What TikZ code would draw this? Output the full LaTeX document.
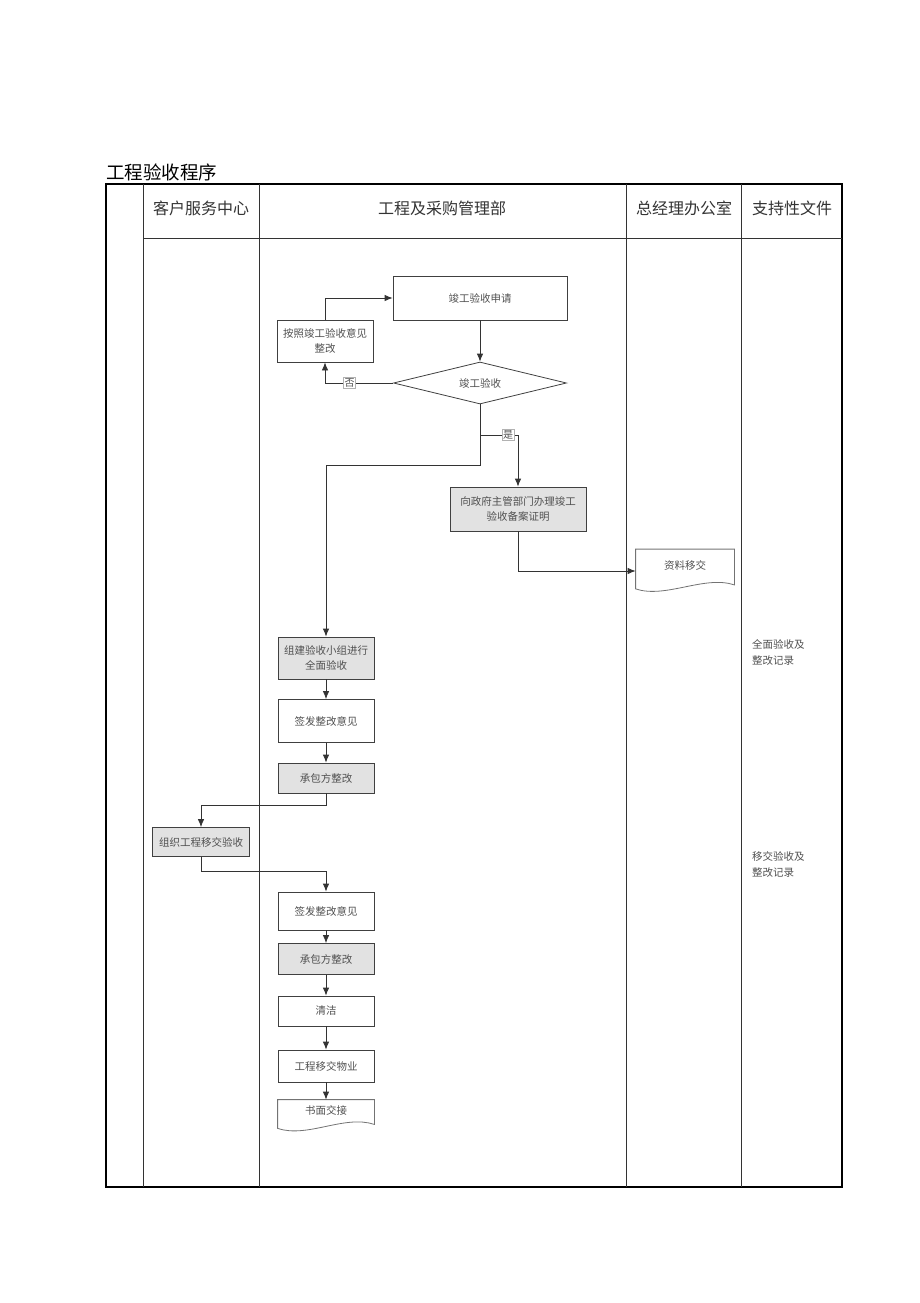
\documentclass[tikz,border=0pt]{standalone}
\usepackage{fontspec}
\newfontfamily\cjk{Noto Sans CJK SC}
\usetikzlibrary{shapes.geometric,arrows.meta}
\definecolor{boxgray}{RGB}{226,226,226}
\definecolor{txtgray}{RGB}{80,80,80}

\begin{document}
\begin{tikzpicture}[x=1pt,y=-1pt,>={Latex[length=8pt,width=6.5pt]},
    box/.style={draw=black!75,line width=0.8pt,text=txtgray,font=\cjk\fontsize{10.5}{15}\selectfont,
      minimum width=96pt,inner sep=0pt,align=center},
    shaded/.style={box,fill=boxgray},
    doc/.style={box,draw=none,text height=8pt,text depth=12pt},
    lab/.style={draw=black!30,fill=white,inner sep=1pt,font=\cjk\fontsize{10}{10}\selectfont,text=txtgray},
    head/.style={font=\cjk\fontsize{16}{16}\selectfont,text=black!80},
    note/.style={font=\cjk\fontsize{10.5}{16}\selectfont,text=txtgray,align=left,anchor=north west,inner sep=0pt}]
          \useasboundingbox (0,0) rectangle (920,1303);
          \node[anchor=west,inner sep=0pt,font=\cjk\fontsize{18.5}{20}\selectfont] (title) at (106,172) {工程验收程序};
          \draw[line width=1.4pt] (106,184) rectangle (842,1187);
          \draw[line width=0.9pt,black!80] (143,184) -- (143,1187);
          \draw[line width=0.9pt,black!80] (259,184) -- (259,1187);
          \draw[line width=0.9pt,black!80] (626,184) -- (626,1187);
          \draw[line width=0.9pt,black!80] (741,184) -- (741,1187);
          \draw[line width=0.9pt,black!80] (143,238) -- (842,238);
          \node[head] (h1) at (201,208) {客户服务中心};
          \node[head] (h2) at (442,208) {工程及采购管理部};
          \node[head] (h3) at (684,208) {总经理办公室};
          \node[head] (h4) at (792,208) {支持性文件};
          \node[box,minimum width=174pt,minimum height=44pt] (shenqing) at (480,298) {竣工验收申请};
          \node[box,minimum height=42pt] (anzhao) at (325,341) {按照竣工验收意见\\整改};
          \node[box,diamond,aspect=4.2,minimum width=173pt,minimum height=42pt] (yanshou) at (480,383) {竣工验收};
          \node[shaded,minimum width=136pt,minimum height=44pt] (zhengfu) at (518,509) {向政府主管部门办理竣工\\验收备案证明};
          \node[doc,minimum width=98pt,minimum height=43pt] (ziliao) at (685,571) {资料移交};
          \node[shaded,minimum height=42pt] (zujian) at (326,658) {组建验收小组进行\\全面验收};
          \node[box,minimum height=43pt] (qianfa) at (326,721) {签发整改意见};
          \node[shaded,minimum height=30pt] (chengbao) at (326,778) {承包方整改};
          \node[shaded,minimum width=97pt,minimum height=29pt] (zuzhi) at (201,842) {组织工程移交验收};
          \node[box,minimum height=38pt] (qianfa2) at (326,911) {签发整改意见};
          \node[shaded,minimum height=31pt] (chengbao2) at (326,959) {承包方整改};
          \node[box,minimum height=30pt] (qingjie) at (326,1011) {清洁};
          \node[box,minimum height=32pt] (yijiao) at (326,1066) {工程移交物业};
          \node[doc,minimum height=32pt] (shumian) at (326,1116) {书面交接};
          \node[note] (note1) at (752,639) {全面验收及\\整改记录};
          \node[note] (note2) at (752,851) {移交验收及\\整改记录};
          \coordinate (fork) at (480,435);
          \begin{scope}[line width=0.8pt,draw=black!80]
            \draw[black!55] (ziliao.north west) -- (ziliao.north east) -- ([yshift=8pt]ziliao.south east)
              .. controls +(-30pt,10pt) and +(30pt,-10pt) .. ([yshift=4pt]ziliao.south west) -- cycle;
            \draw[black!55] (shumian.north west) -- (shumian.north east) -- ([yshift=8pt]shumian.south east)
              .. controls +(-30pt,10pt) and +(30pt,-10pt) .. ([yshift=4pt]shumian.south west) -- cycle;
            \draw [->] (shenqing.south) -- (yanshou.north);
            \draw [->] (yanshou.west) -| node[lab,pos=0.32] {否} (anzhao.south);
            \draw [->] (anzhao.north) |- (shenqing.west);
            \draw [->] (yanshou.south) -- ++(0,61) -| (zujian.north);
            \draw [->] (fork) -| node[lab,pos=0.37] {是} (zhengfu.north);
            \draw [->] (zhengfu.south) |- (ziliao.west);
            \draw [->] (zujian.south) -- (qianfa.north);
            \draw [->] (qianfa.south) -- (chengbao.north);
            \draw [->] (chengbao.south) -- ++(0,12) -| (zuzhi.north);
            \draw [->] (zuzhi.south) -- ++(0,14) -| (qianfa2.north);
            \draw [->] (qianfa2.south) -- (chengbao2.north);
            \draw [->] (chengbao2.south) -- (qingjie.north);
            \draw [->] (qingjie.south) -- (yijiao.north);
            \draw [->] (yijiao.south) -- (shumian.north);
          \end{scope}
        \end{tikzpicture}
\end{document}
